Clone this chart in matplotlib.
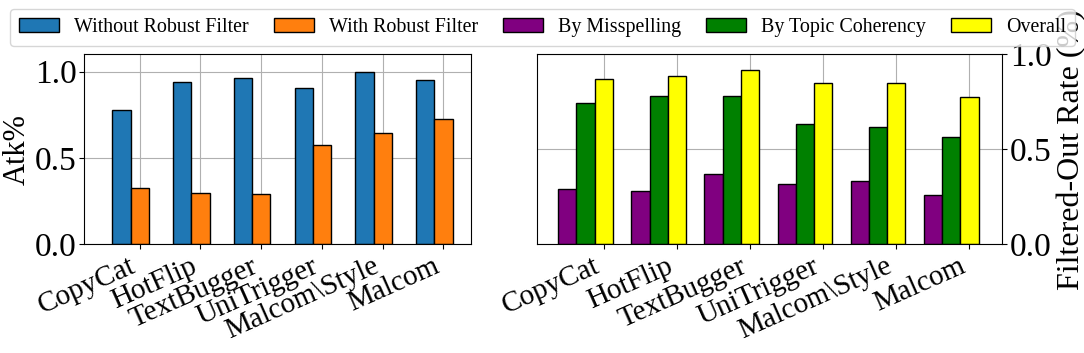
import matplotlib
matplotlib.use("Agg")
import matplotlib.pyplot as plt
import numpy as np

ATTACKS = ["CopyCat", "HotFlip", "TextBugger", "UniTrigger", "Malcom\\Style", "Malcom"]

# left panel: attack success
ATK_WITHOUT = [0.78, 0.94, 0.965, 0.908, 0.998, 0.954]
ATK_WITH = [0.324, 0.295, 0.289, 0.574, 0.642, 0.723]

# right panel: filtered-out rate
BY_MISSPELL = [0.293, 0.282, 0.372, 0.319, 0.335, 0.261]
BY_TOPIC = [0.746, 0.782, 0.782, 0.635, 0.619, 0.567]
OVERALL = [0.872, 0.888, 0.919, 0.851, 0.851, 0.777]

plt.rcParams.update({
    "font.family": ["Liberation Serif", "DejaVu Serif"],
    "font.size": 24,
    "axes.axisbelow": True,
})

fig = plt.figure(figsize=(10.84, 3.53), dpi=100)
ax1 = fig.add_axes([0.0778, 0.3079, 0.3565, 0.538])
ax2 = fig.add_axes([0.4957, 0.3079, 0.429, 0.538])

x = np.arange(len(ATTACKS))

w = 0.3
b1 = ax1.bar(x - w, ATK_WITHOUT, w, color="#1f77b4", edgecolor="black", linewidth=1,
             label="Without Robust Filter")
b2 = ax1.bar(x, ATK_WITH, w, color="#ff7f0e", edgecolor="black", linewidth=1,
             label="With Robust Filter")
ax1.set_ylim(0, 1.1)
ax1.set_yticks([0.0, 0.5, 1.0])
ax1.set_ylabel("Atk%", fontsize=22, labelpad=2)
ax1.grid(True, color="#b0b0b0", linewidth=0.8)

w2 = 0.25
b3 = ax2.bar(x - 2 * w2, BY_MISSPELL, w2, color="purple", edgecolor="black", linewidth=1,
             label="By Misspelling")
b4 = ax2.bar(x - w2, BY_TOPIC, w2, color="green", edgecolor="black", linewidth=1,
             label="By Topic Coherency")
b5 = ax2.bar(x, OVERALL, w2, color="yellow", edgecolor="black", linewidth=1,
             label="Overall")
ax2.set_ylim(0, 1.0)
ax2.set_yticks([0.0, 0.5, 1.0])
ax2.yaxis.tick_right()
ax2.yaxis.set_label_position("right")
ax2.set_ylabel("Filtered-Out Rate (%)", fontsize=23)
ax2.grid(True, color="#b0b0b0", linewidth=0.8)

for ax in (ax1, ax2):
    ax.set_xlim(-0.91, 5.45)
    ax.set_xticks(x)
    ax.set_xticklabels(ATTACKS, rotation=24, ha="right", fontsize=21)
    ax.tick_params(axis="x", pad=3)
    ax.tick_params(axis="y", pad=2)

handles = [b1, b2, b3, b4, b5]
fig.legend(handles, [h.get_label() for h in handles], ncol=5, fontsize=14.4,
           loc="upper center", bbox_to_anchor=(0.5008, 0.9737), borderaxespad=0,
           frameon=True, borderpad=0.45, handlelength=2.0, handletextpad=0.75,
           columnspacing=1.25)

fig.savefig("out.png", dpi=100)
